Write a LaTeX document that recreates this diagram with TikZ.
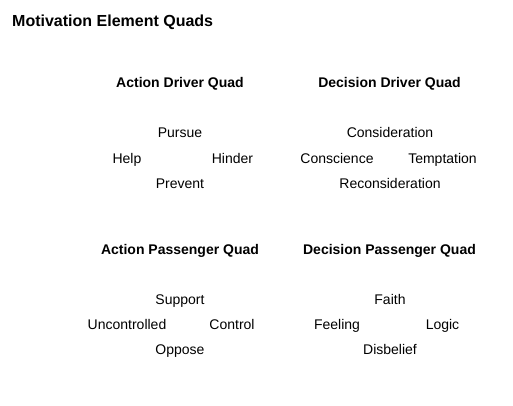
\documentclass[tikz,border=0pt]{standalone}
\usepackage{fontspec}
\setmainfont{Liberation Sans}
\usepackage{tikz}
\usetikzlibrary{positioning}

\begin{document}
\begin{tikzpicture}[
    x=1pt, y=-1pt,
    title/.style={anchor=base west, inner sep=0pt, font=\fontsize{16}{19}\selectfont\bfseries},
    quadhead/.style={anchor=base, inner sep=0pt, font=\fontsize{14}{17}\selectfont\bfseries},
    element/.style={anchor=base, inner sep=0pt, font=\fontsize{14}{17}\selectfont}
]
    \useasboundingbox (0,0) rectangle (513,405);

    % Title
    \node[title] (heading) at (12,26) {Motivation Element Quads};

    % Action Driver Quad
    \node[quadhead] (adq) at (180,87) {Action Driver Quad};
    \node[element] (pursue) at (180,137) {Pursue};
    \node[element] (help) at (127,163) {Help};
    \node[element] (hinder) at (232.5,163) {Hinder};
    \node[element] (prevent) at (180,188) {Prevent};

    % Decision Driver Quad
    \node[quadhead] (ddq) at (389.5,87) {Decision Driver Quad};
    \node[element] (consideration) at (390,137) {Consideration};
    \node[element] (conscience) at (337,163) {Conscience};
    \node[element] (temptation) at (442.5,163) {Temptation};
    \node[element] (reconsideration) at (390,188) {Reconsideration};

    % Action Passenger Quad
    \node[quadhead] (apq) at (180,254) {Action Passenger Quad};
    \node[element] (support) at (180,304) {Support};
    \node[element] (uncontrolled) at (127,329) {Uncontrolled};
    \node[element] (control) at (232,329) {Control};
    \node[element] (oppose) at (180,354) {Oppose};

    % Decision Passenger Quad
    \node[quadhead] (dpq) at (389.5,254) {Decision Passenger Quad};
    \node[element] (faith) at (390,304) {Faith};
    \node[element] (feeling) at (337,329) {Feeling};
    \node[element] (logic) at (442.5,329) {Logic};
    \node[element] (disbelief) at (390,354) {Disbelief};
\end{tikzpicture}
\end{document}
